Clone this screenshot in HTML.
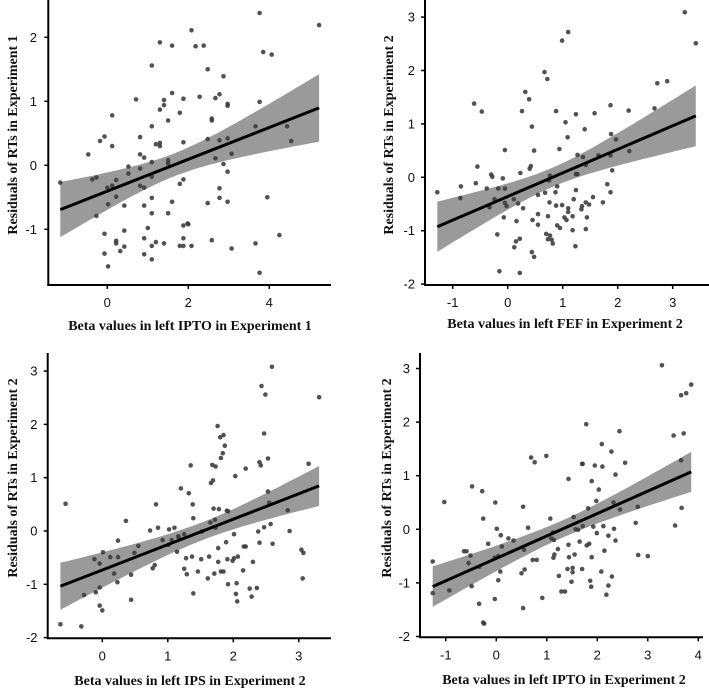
<!DOCTYPE html>
<html><head><meta charset="utf-8">
<style>
html,body{margin:0;padding:0;background:#fff;}
svg{display:block;}
.tick{font-family:"Liberation Sans",sans-serif;font-size:13px;fill:#111;}
.title{font-family:"Liberation Serif",serif;font-size:14px;font-weight:bold;fill:#111;}
</style></head>
<body>
<svg id="chart" width="709" height="689" viewBox="0 0 709 689" xmlns="http://www.w3.org/2000/svg"></svg>
<script>
// Panel 1: left IPTO, Experiment 1
const p1x=[-1.16,-0.47,-0.37,-0.27,-0.27,-0.18,-0.07,-0.07,-0.07,0,0.02,0.02,0.12,0.12,0.12,0.22,0.22,0.22,0.22,0.32,0.42,0.42,0.42,0.52,0.52,0.71,0.81,0.81,0.81,0.81,0.91,0.91,0.91,0.91,0.91,1.0,1.1,1.1,1.1,1.1,1.1,1.1,1.1,1.1,1.2,1.2,1.3,1.3,1.3,1.3,1.4,1.4,1.4,1.5,1.5,1.5,1.5,1.6,1.6,1.6,1.79,1.79,1.79,1.88,1.88,1.88,1.88,1.88,1.88,1.98,2.0,2.08,2.08,2.18,2.28,2.38,2.48,2.48,2.48,2.58,2.58,2.58,2.67,2.67,2.77,2.77,2.77,2.77,2.87,2.87,2.97,2.97,2.97,2.97,2.97,3.07,3.07,3.66,3.66,3.76,3.76,3.76,3.85,3.95,4.06,4.25,4.44,4.54,5.23];
const p1y=[-0.27,0.17,-0.22,-0.19,-0.79,0.38,0.45,-1.07,-1.38,-0.35,-0.61,-1.58,0.78,0.3,-0.32,-0.23,-0.49,-1.18,-1.22,-1.34,-0.63,-1.02,-1.27,-0.02,-0.13,1.03,0.44,0.17,-0.05,-0.32,0.12,-0.35,-0.63,-1.14,-1.39,-0.98,1.56,0.61,0.05,-0.18,-0.51,-0.75,-1.26,-1.47,0.33,-1.2,1.92,0.87,0.35,0.3,1.02,0.94,-1.22,0.7,0.08,0.03,-0.75,1.87,1.13,-0.57,0.82,-0.29,-1.26,1.04,0.36,-0.22,-0.94,-1.14,-1.26,-0.91,-0.92,2.11,-1.26,1.86,1.07,1.87,1.5,0.41,-0.59,0.73,0.7,-1.17,1.05,0.11,1.11,0.39,-0.36,-0.51,1.39,0.02,0.96,0.93,0.42,-0.1,-0.57,0.18,-1.3,0.61,-1.22,2.38,0.99,-1.68,1.77,-0.5,1.73,-1.09,0.61,0.38,2.19];
const p1xTicks=[0,2,4];
const p1yTicks=[-1,0,1,2];
// Panel 2: left FEF, Experiment 2
const p2x=[-1.28,-0.86,-0.85,-0.61,-0.58,-0.55,-0.47,-0.38,-0.3,-0.28,-0.33,-0.24,-0.19,-0.17,-0.15,-0.09,-0.07,-0.05,-0.05,-0.05,-0.02,0.11,0.12,0.15,0.16,0.19,0.22,0.22,0.23,0.26,0.28,0.32,0.39,0.4,0.42,0.44,0.44,0.45,0.48,0.48,0.55,0.55,0.55,0.67,0.68,0.7,0.72,0.73,0.73,0.75,0.77,0.76,0.77,0.8,0.82,0.87,0.88,0.88,0.9,0.9,0.94,0.95,0.99,0.99,1.03,1.05,1.07,1.09,1.1,1.1,1.1,1.18,1.18,1.2,1.23,1.24,1.24,1.24,1.27,1.27,1.34,1.35,1.37,1.4,1.42,1.42,1.42,1.44,1.48,1.55,1.58,1.65,1.73,1.81,1.87,1.87,1.87,1.88,1.9,1.97,2.2,2.21,2.67,2.72,2.9,3.22,3.42];
const p2y=[-0.28,-0.39,-0.17,1.38,-0.11,0.2,1.23,-0.21,0.05,0.01,-0.56,-0.41,-1.07,-0.21,-1.76,-0.02,-0.75,0.51,-0.21,-0.48,-0.54,-0.41,-1.31,-1.2,-0.82,-0.49,-1.15,-1.79,0.08,1.24,-0.58,1.6,1.46,0.16,0.21,-1.4,0.95,-0.8,-1.49,0.5,-0.69,-0.33,-0.89,1.97,-0.29,-1.06,1.84,-0.73,-1.16,-0.06,0.03,-0.47,-1.09,-1.17,-1.24,-0.28,1.24,-0.53,-0.17,-0.9,0.53,-0.95,2.56,-0.52,-0.75,1.03,-0.8,0.75,-0.58,2.72,-0.65,-0.73,-0.99,-0.41,-1.29,1.18,-0.24,0.06,0.06,0.42,-0.6,-0.54,0.38,0.9,0.23,-0.47,-0.97,-0.75,-0.51,-0.37,1.2,0.41,-0.47,-0.13,-0.28,1.35,0.41,0.81,0.13,0.71,1.25,0.49,1.29,1.76,1.8,3.09,2.51];
const p2xTicks=[-1,0,1,2,3];
const p2yTicks=[-2,-1,0,1,2,3];
// Panel 3: left IPS, Experiment 2
const p3x=[-0.64,-0.56,-0.32,-0.28,-0.12,-0.1,-0.04,-0.04,-0.04,0,0.01,0.12,0.18,0.23,0.24,0.24,0.36,0.44,0.44,0.49,0.55,0.73,0.77,0.8,0.82,0.85,0.92,1.01,1.02,1.06,1.1,1.14,1.16,1.17,1.2,1.25,1.25,1.28,1.29,1.32,1.35,1.37,1.38,1.39,1.39,1.46,1.51,1.52,1.63,1.61,1.65,1.66,1.68,1.69,1.7,1.71,1.72,1.73,1.73,1.76,1.77,1.77,1.78,1.8,1.81,1.81,1.84,1.85,1.85,1.87,1.89,1.9,1.92,1.91,1.92,1.99,2.01,2.01,2.03,2.04,2.05,2.06,2.07,2.15,2.16,2.19,2.19,2.25,2.28,2.3,2.36,2.38,2.4,2.4,2.42,2.43,2.47,2.47,2.49,2.53,2.53,2.55,2.57,2.59,2.6,2.83,2.86,3.04,3.06,3.07,3.15,3.31];
const p3y=[-1.75,0.51,-1.79,-1.2,-0.53,-1.15,-0.61,-1.06,-1.4,-1.49,-0.4,-0.49,-0.8,-0.96,-0.49,-0.18,0.19,-1.29,-0.82,-0.41,-0.28,0.01,-0.7,-0.64,0.5,0.06,-0.17,-0.26,0.03,-0.17,0.06,-0.39,-0.1,-0.13,0.8,-0.06,-0.71,-0.51,-0.81,0.71,1.23,-0.48,0.5,0.24,-1.17,-0.76,-0.53,-0.01,-0.48,-0.89,0.16,0.9,1.24,0.95,0.42,-0.8,0.21,0.06,1.21,1.97,-0.32,-0.58,0.41,1.76,1.37,-0.76,1.46,-0.76,1.8,1.6,-0.21,0.38,0.37,-0.53,-1.0,-0.56,-0.06,-0.51,1.03,-1.18,-0.98,-1.32,-0.48,-0.74,-0.29,-0.29,1.17,-1.08,-1.23,-0.58,-1.07,-0.01,1.29,-0.22,1.23,2.72,0.07,1.83,2.56,0.74,1.36,0.53,0.13,3.08,-0.24,0.39,0.0,-0.35,-0.89,-0.41,1.26,2.51];
const p3xTicks=[0,1,2,3];
const p3yTicks=[-2,-1,0,1,2,3];
// Panel 4: left IPTO, Experiment 2
const p4x=[-1.26,-1.26,-1.03,-0.93,-0.64,-0.59,-0.55,-0.51,-0.49,-0.48,-0.34,-0.34,-0.28,-0.26,-0.26,-0.24,-0.16,-0.03,-0.03,-0.02,0.01,0.04,0.04,0.08,0.09,0.11,0.24,0.34,0.5,0.53,0.53,0.55,0.56,0.63,0.69,0.72,0.76,0.8,0.91,0.99,1.07,1.09,1.12,1.13,1.14,1.15,1.22,1.24,1.29,1.36,1.41,1.43,1.43,1.44,1.49,1.51,1.51,1.53,1.55,1.57,1.62,1.65,1.7,1.71,1.7,1.71,1.78,1.79,1.82,1.84,1.86,1.88,1.89,1.89,1.92,1.95,1.98,1.99,2.03,2.08,2.09,2.1,2.12,2.14,2.18,2.22,2.22,2.28,2.29,2.32,2.33,2.36,2.36,2.44,2.45,2.55,2.76,2.8,2.81,3.0,3.28,3.51,3.54,3.66,3.66,3.67,3.71,3.76,3.86];
const p4y=[-0.6,-1.19,0.51,-1.14,-0.41,-0.41,-0.63,-0.49,-1.06,0.8,-0.7,-1.39,0.71,0.2,-1.74,-1.76,-0.27,-0.53,-1.3,0.5,0.01,-0.5,-0.95,-0.79,-0.11,-0.32,-0.17,-0.21,-0.82,0.42,-1.47,-0.38,-0.75,0.03,1.34,-0.57,1.25,-0.57,-1.28,1.37,0.2,-0.17,-0.06,-0.53,-0.2,-0.47,-0.37,-0.87,-1.16,-1.16,-0.74,0.94,-0.29,-0.52,-0.98,-0.72,-0.8,0.23,-0.47,0.0,-0.01,-0.23,1.22,1.22,-0.74,0.06,1.96,-0.3,0.39,-0.27,-0.96,-1.07,-0.52,0.9,0.05,1.19,0.53,-0.07,0.74,-0.79,1.59,1.17,0.06,-0.4,-1.22,-0.12,-1.05,1.45,-0.88,0.5,0.01,-0.21,1.02,1.83,0.37,1.24,0.12,0.42,-0.48,-0.5,3.06,1.75,0.07,2.5,1.29,0.4,1.79,2.54,2.7];
const p4xTicks=[-1,0,1,2,3,4];
const p4yTicks=[-2,-1,0,1,2,3];

const NS="http://www.w3.org/2000/svg";
const svg=document.getElementById('chart');
function mk(tag,attrs,parent){const e=document.createElementNS(NS,tag);for(const k in attrs)e.setAttribute(k,attrs[k]);(parent||svg).appendChild(e);return e;}

const panels=[
 {xs:p1x,ys:p1y,xt:p1xTicks,yt:p1yTicks,x0:107.3,xu:40.5,y0:165.3,yu:64,axL:48.3,axB:285,axR:331,axT:0,ylabX:37,yTitleX:12,yTitleY:135,xTitleX:190,xTitleY:330,xTitle:"Beta values in left IPTO in Experiment 1",yTitle:"Residuals of RTs in Experiment 1",name:"ipto-exp1"},
 {xs:p2x,ys:p2y,xt:p2xTicks,yt:p2yTicks,x0:507.7,xu:55,y0:177.3,yu:53.4,axL:425,axB:285,axR:709,axT:0,ylabX:415,yTitleX:388,yTitleY:135,xTitleX:565,xTitleY:328,xTitle:"Beta values in left FEF in Experiment 2",yTitle:"Residuals of RTs in Experiment 2",name:"fef-exp2"},
 {xs:p3x,ys:p3y,xt:p3xTicks,yt:p3yTicks,x0:102.3,xu:65.5,y0:531,yu:53.3,axL:47.7,axB:638.3,axR:331,axT:353,ylabX:37.5,yTitleX:12,yTitleY:478,xTitleX:190,xTitleY:685,xTitle:"Beta values in left IPS in Experiment 2",yTitle:"Residuals of RTs in Experiment 2",name:"ips-exp2"},
 {xs:p4x,ys:p4y,xt:p4xTicks,yt:p4yTicks,x0:496.3,xu:50.5,y0:529.3,yu:53.6,axL:420,axB:637.3,axR:703,axT:353,ylabX:410,yTitleX:386,yTitleY:478,xTitleX:564,xTitleY:684,xTitle:"Beta values in left IPTO in Experiment 2",yTitle:"Residuals of RTs in Experiment 2",name:"ipto-exp2"}
];

panels.forEach(p=>{
 const g=mk('g',{});
 
 
 const X=v=>p.x0+v*p.xu, Y=v=>p.y0-v*p.yu;
 // regression
 const n=p.xs.length;let mx=0,my=0;for(let i=0;i<n;i++){mx+=p.xs[i];my+=p.ys[i];}mx/=n;my/=n;
 let sxx=0,sxy=0;for(let i=0;i<n;i++){sxx+=(p.xs[i]-mx)**2;sxy+=(p.xs[i]-mx)*(p.ys[i]-my);}
 const b=sxy/sxx,a=my-b*mx;let sse=0;for(let i=0;i<n;i++){sse+=(p.ys[i]-a-b*p.xs[i])**2;}
 const s=Math.sqrt(sse/(n-2)),t=1.98;
 const xmin=Math.min(...p.xs),xmax=Math.max(...p.xs);
 let up=[],lo=[];
 for(let k=0;k<=60;k++){const xv=xmin+(xmax-xmin)*k/60;const yh=a+b*xv;const se=t*s*Math.sqrt(1/n+(xv-mx)**2/sxx);up.push(X(xv).toFixed(1)+','+Y(yh+se).toFixed(1));lo.unshift(X(xv).toFixed(1)+','+Y(yh-se).toFixed(1));}
 const band=mk('polygon',{points:up.concat(lo).join(' '),fill:'#9a9a9a'},g);
 
 
 const dots=mk('g',{},g);
 
 
 for(let i=0;i<n;i++){
  const c=mk('circle',{cx:X(p.xs[i]).toFixed(1),cy:Y(p.ys[i]).toFixed(1),r:2.3,fill:'#3a3a3a','fill-opacity':0.88},dots);
  
  
 }
 const ln=mk('line',{x1:X(xmin),y1:Y(a+b*xmin),x2:X(xmax),y2:Y(a+b*xmax),stroke:'#000','stroke-width':3},g);
 
 
 // axes
 const ya=mk('line',{x1:p.axL,y1:p.axT,x2:p.axL,y2:p.axB,stroke:'#000','stroke-width':2},g);
 
 
 const xa=mk('line',{x1:p.axL-1,y1:p.axB,x2:p.axR,y2:p.axB,stroke:'#000','stroke-width':2},g);
 
 
 p.xt.forEach(v=>{
  mk('line',{x1:X(v),y1:p.axB,x2:X(v),y2:p.axB+4,stroke:'#000','stroke-width':1.5},g);
  const tx=mk('text',{x:X(v),y:p.axB+22,'text-anchor':'middle',class:'tick'},g);
  tx.textContent=String(v);
  
  
 });
 p.yt.forEach(v=>{
  mk('line',{x1:p.axL-4,y1:Y(v),x2:p.axL,y2:Y(v),stroke:'#000','stroke-width':1.5},g);
  const tx=mk('text',{x:p.ylabX,y:Y(v)+4.5,'text-anchor':'end',class:'tick'},g);
  tx.textContent=String(v);
  
  
 });
 const xt=mk('text',{x:p.xTitleX,y:p.xTitleY,'text-anchor':'middle',class:'title'},g);
 xt.textContent=p.xTitle;
 
 
 const yt=mk('text',{x:0,y:0,'text-anchor':'middle',class:'title',transform:'translate('+(p.yTitleX+5)+','+p.yTitleY+') rotate(-90)'},g);
 yt.textContent=p.yTitle;
 
 
});
</script>
</body></html>
